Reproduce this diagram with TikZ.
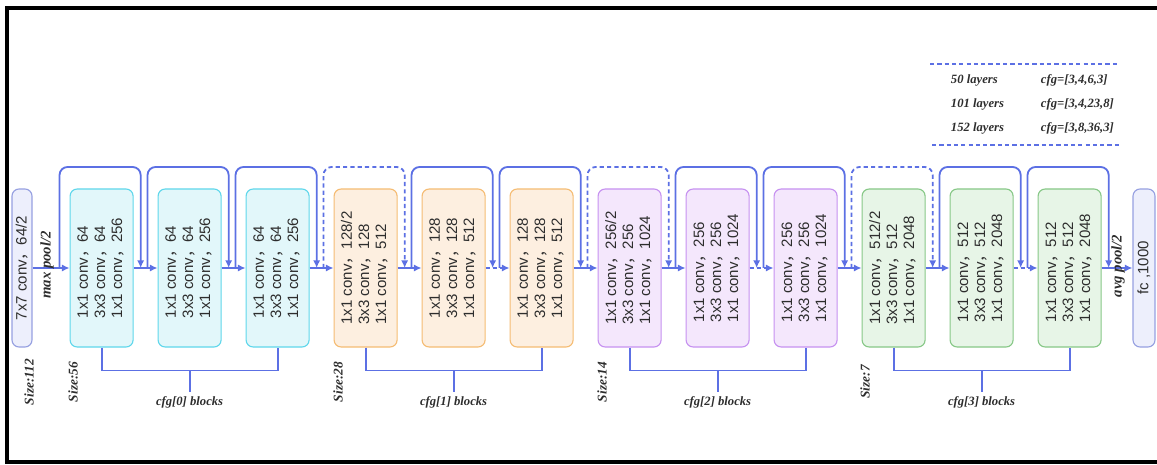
\documentclass[tikz,border=0pt]{standalone}
\usepackage{graphicx}
\usepackage{fontspec}
\setmainfont{Liberation Serif}
\setsansfont{Liberation Sans}
\newfontfamily\cjkfont{Noto Sans CJK SC}
\usepackage{tikz}
\usetikzlibrary{arrows.meta,calc}
\usepackage{xcolor}
\definecolor{linkblue}{RGB}{92,112,228}
\definecolor{cyanedge}{RGB}{95,215,235}
\definecolor{cyanfill}{RGB}{226,247,250}
\definecolor{orangeedge}{RGB}{245,188,115}
\definecolor{orangefill}{RGB}{253,239,224}
\definecolor{purpleedge}{RGB}{198,145,240}
\definecolor{purplefill}{RGB}{244,231,252}
\definecolor{greenedge}{RGB}{135,200,135}
\definecolor{greenfill}{RGB}{231,245,231}
\definecolor{greyedge}{RGB}{150,160,225}
\definecolor{greyfill}{RGB}{237,239,252}
\definecolor{textdark}{RGB}{45,45,45}
\newcommand{\fwc}{{\cjkfont ，}}
\newcommand{\convstack}[3]{\rotatebox{90}{\begin{tabular}{@{}l@{}}1x1 conv\fwc#1\\3x3 conv\fwc#2\\1x1 conv\fwc#3\end{tabular}}}

\begin{document}
\begin{tikzpicture}[
    block/.style={rectangle, rounded corners=5pt, minimum width=1.575cm, minimum height=3.95cm,
                  inner sep=0pt, line width=0.8pt, text=textdark,
                  font=\sffamily\fontsize{10.7}{12.1}\selectfont},
    endbox/.style={block, minimum width=0.5cm, draw=greyedge, fill=greyfill},
    stageA/.style={block, draw=cyanedge, fill=cyanfill},
    stageB/.style={block, draw=orangeedge, fill=orangefill},
    stageC/.style={block, draw=purpleedge, fill=purplefill},
    stageD/.style={block, draw=greenedge, fill=greenfill},
    link/.style={draw=linkblue, line width=1.3pt},
    skip/.style={link, rounded corners=0.2cm},
    gap/.style={dash pattern=on 3pt off 2.2pt},
    note/.style={font=\bfseries\itshape\fontsize{9}{11}\selectfont, text=textdark},
    sizelab/.style={note, rotate=90, font=\bfseries\itshape\fontsize{9.5}{11}\selectfont},
    poollab/.style={note, rotate=90, font=\bfseries\itshape\fontsize{10.5}{13}\selectfont},
    >={Latex[length=1.9mm,width=1.8mm]},
]
    \useasboundingbox (0,0) rectangle (28.925,11.6);

    % Frame
    \draw[line width=0.1cm] (28.925,11.4) -- (0.175,11.4) -- (0.175,0.05) -- (28.925,0.05);

    % Stem and head
    \node[endbox] (b0) at (0.55,4.9) {\rotatebox{90}{7x7 conv\fwc64/2}};
    \node[endbox, minimum width=0.55cm] (fc) at (28.6,4.9) {\rotatebox{90}{fc ,1000}};

    % Stage 1
    \node[stageA] (b1) at (2.54,4.9) {\convstack{64}{64}{256}};
    \node[stageA] (b2) at (4.74,4.9) {\convstack{64}{64}{256}};
    \node[stageA] (b3) at (6.94,4.9) {\convstack{64}{64}{256}};

    % Stage 2
    \node[stageB] (b4) at (9.14,4.9) {\convstack{128/2}{128}{512}};
    \node[stageB] (b5) at (11.34,4.9) {\convstack{128}{128}{512}};
    \node[stageB] (b6) at (13.54,4.9) {\convstack{128}{128}{512}};

    % Stage 3
    \node[stageC] (b7) at (15.74,4.9) {\convstack{256/2}{256}{1024}};
    \node[stageC] (b8) at (17.94,4.9) {\convstack{256}{256}{1024}};
    \node[stageC] (b9) at (20.14,4.9) {\convstack{256}{256}{1024}};

    % Stage 4
    \node[stageD] (b10) at (22.34,4.9) {\convstack{512/2}{512}{2048}};
    \node[stageD] (b11) at (24.54,4.9) {\convstack{512}{512}{2048}};
    \node[stageD] (b12) at (26.74,4.9) {\convstack{512}{512}{2048}};

    % Main path
    \draw[->, link] (b0) -- (b1);
    \draw[->, link] (b1) -- (b2);
    \draw[->, link] (b2) -- (b3);
    \draw[->, link] (b3) -- (b4);
    \draw[->, link] (b4) -- (b5);
    \draw[->, link, gap] (b5) -- (b6);
    \draw[->, link] (b6) -- (b7);
    \draw[->, link] (b7) -- (b8);
    \draw[->, link, gap] (b8) -- (b9);
    \draw[->, link] (b9) -- (b10);
    \draw[->, link] (b10) -- (b11);
    \draw[->, link, gap] (b11) -- (b12);
    \draw[->, link] (b12) -- (fc);

    % Shortcuts (dashed ones downsample)
    \draw[->, skip] ([xshift=-0.25cm]b1.west) -- ++(0,2.525) -| ([xshift=0.175cm]b1.east);
    \draw[->, skip] ([xshift=-0.25cm]b2.west) -- ++(0,2.525) -| ([xshift=0.175cm]b2.east);
    \draw[->, skip] ([xshift=-0.25cm]b3.west) -- ++(0,2.525) -| ([xshift=0.175cm]b3.east);
    \draw[->, skip, gap] ([xshift=-0.25cm]b4.west) -- ++(0,2.525) -| ([xshift=0.175cm]b4.east);
    \draw[->, skip] ([xshift=-0.25cm]b5.west) -- ++(0,2.525) -| ([xshift=0.175cm]b5.east);
    \draw[->, skip] ([xshift=-0.25cm]b6.west) -- ++(0,2.525) -| ([xshift=0.175cm]b6.east);
    \draw[->, skip, gap] ([xshift=-0.25cm]b7.west) -- ++(0,2.525) -| ([xshift=0.175cm]b7.east);
    \draw[->, skip] ([xshift=-0.25cm]b8.west) -- ++(0,2.525) -| ([xshift=0.175cm]b8.east);
    \draw[->, skip] ([xshift=-0.25cm]b9.west) -- ++(0,2.525) -| ([xshift=0.175cm]b9.east);
    \draw[->, skip, gap] ([xshift=-0.25cm]b10.west) -- ++(0,2.525) -| ([xshift=0.175cm]b10.east);
    \draw[->, skip] ([xshift=-0.25cm]b11.west) -- ++(0,2.525) -| ([xshift=0.175cm]b11.east);
    \draw[->, skip] ([xshift=-0.25cm]b12.west) -- ++(0,2.525) -| ([xshift=0.175cm]b12.east);

    % Pooling labels
    \node[poollab] (maxp) at (1.175,4.975) {max pool/2};
    \node[poollab] (avgp) at (27.95,4.95) {avg pool/2};

    % Feature map sizes
    \node[sizelab] (s0) at (0.725,2.05) {Size:112};
    \node[sizelab] (s1) at (1.825,2.05) {Size:56};
    \node[sizelab] (s2) at (8.45,2.05) {Size:28};
    \node[sizelab] (s3) at (15.05,2.05) {Size:14};
    \node[sizelab] (s4) at (21.625,2.05) {Size:7};

    % Stage brackets
    \draw[link] (b1.south) -- ++(0,-0.575) -| (b3.south);
    \draw[link] (b4.south) -- ++(0,-0.575) -| (b6.south);
    \draw[link] (b7.south) -- ++(0,-0.575) -| (b9.south);
    \draw[link] (b10.south) -- ++(0,-0.575) -| (b12.south);
    \coordinate (j0) at (4.74,2.35);
    \coordinate (j1) at (11.34,2.35);
    \coordinate (j2) at (17.94,2.35);
    \coordinate (j3) at (24.54,2.35);
    \node[note, anchor=north, inner sep=3pt] (g0) at (4.74,1.8) {cfg[0] blocks};
    \node[note, anchor=north, inner sep=3pt] (g1) at (11.34,1.8) {cfg[1] blocks};
    \node[note, anchor=north, inner sep=3pt] (g2) at (17.94,1.8) {cfg[2] blocks};
    \node[note, anchor=north, inner sep=3pt] (g3) at (24.54,1.8) {cfg[3] blocks};
    \draw[link] (j0) -- (g0.north);
    \draw[link] (j1) -- (g1.north);
    \draw[link] (j2) -- (g2.north);
    \draw[link] (j3) -- (g3.north);

    % Depth table
    \draw[link, gap, line width=1.1pt] (23.25,10.0) -- (27.95,10.0);
    \draw[link, gap, line width=1.1pt] (23.3,7.975) -- (28.0,7.975);
    \node[note, anchor=west] (l50) at (23.65,9.6) {50 layers};
    \node[note, anchor=west] (c50) at (25.9,9.6) {cfg=[3,4,6,3]};
    \node[note, anchor=west] (l101) at (23.65,9.0) {101 layers};
    \node[note, anchor=west] (c101) at (25.9,9.0) {cfg=[3,4,23,8]};
    \node[note, anchor=west] (l152) at (23.65,8.4) {152 layers};
    \node[note, anchor=west] (c152) at (25.9,8.4) {cfg=[3,8,36,3]};
\end{tikzpicture}
\end{document}
